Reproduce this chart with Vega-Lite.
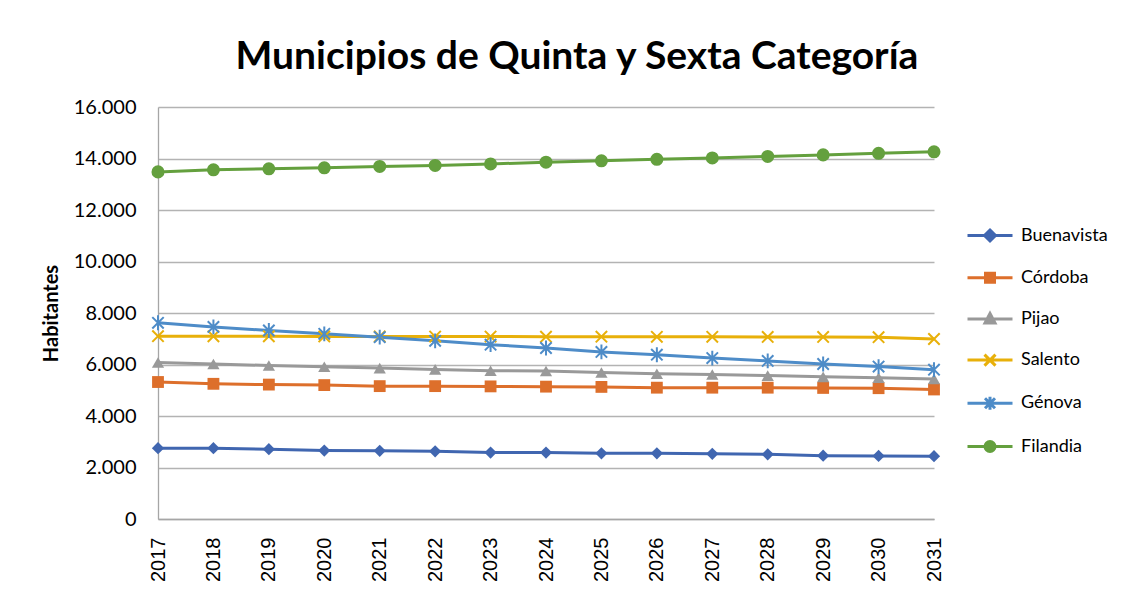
{
  "$schema": "https://vega.github.io/schema/vega-lite/v6.json",
  "width": 776,
  "height": 412,
  "autosize": {"type": "none"},
  "padding": {"left": 158, "top": 107, "right": 205, "bottom": 71},
  "background": "white",
  "title": {
    "text": "Municipios de Quinta y Sexta Categoría",
    "font": "Lato",
    "fontSize": 39,
    "fontWeight": "bold",
    "color": "#000000",
    "anchor": "middle",
    "frame": "group",
    "dx": 31,
    "dy": 50,
    "baseline": "alphabetic",
    "offset": 39
  },
  "config": {
    "view": {"stroke": null},
    "axis": {
      "domainColor": "#a6a6a6",
      "domainWidth": 1.3,
      "gridColor": "#b3b3b3",
      "gridWidth": 1.3,
      "ticks": false,
      "labelColor": "#000000",
      "titleColor": "#000000"
    }
  },
  "data": {
    "values": [
      {"year": "2017", "Municipio": "Buenavista", "Habitantes": 2750},
      {"year": "2018", "Municipio": "Buenavista", "Habitantes": 2750},
      {"year": "2019", "Municipio": "Buenavista", "Habitantes": 2710},
      {"year": "2020", "Municipio": "Buenavista", "Habitantes": 2660},
      {"year": "2021", "Municipio": "Buenavista", "Habitantes": 2650},
      {"year": "2022", "Municipio": "Buenavista", "Habitantes": 2630},
      {"year": "2023", "Municipio": "Buenavista", "Habitantes": 2580},
      {"year": "2024", "Municipio": "Buenavista", "Habitantes": 2580},
      {"year": "2025", "Municipio": "Buenavista", "Habitantes": 2550},
      {"year": "2026", "Municipio": "Buenavista", "Habitantes": 2550},
      {"year": "2027", "Municipio": "Buenavista", "Habitantes": 2530},
      {"year": "2028", "Municipio": "Buenavista", "Habitantes": 2510},
      {"year": "2029", "Municipio": "Buenavista", "Habitantes": 2460},
      {"year": "2030", "Municipio": "Buenavista", "Habitantes": 2450},
      {"year": "2031", "Municipio": "Buenavista", "Habitantes": 2440},
      {"year": "2017", "Municipio": "Córdoba", "Habitantes": 5320},
      {"year": "2018", "Municipio": "Córdoba", "Habitantes": 5250},
      {"year": "2019", "Municipio": "Córdoba", "Habitantes": 5220},
      {"year": "2020", "Municipio": "Córdoba", "Habitantes": 5200},
      {"year": "2021", "Municipio": "Córdoba", "Habitantes": 5160},
      {"year": "2022", "Municipio": "Córdoba", "Habitantes": 5160},
      {"year": "2023", "Municipio": "Córdoba", "Habitantes": 5150},
      {"year": "2024", "Municipio": "Córdoba", "Habitantes": 5140},
      {"year": "2025", "Municipio": "Córdoba", "Habitantes": 5130},
      {"year": "2026", "Municipio": "Córdoba", "Habitantes": 5100},
      {"year": "2027", "Municipio": "Córdoba", "Habitantes": 5100},
      {"year": "2028", "Municipio": "Córdoba", "Habitantes": 5100},
      {"year": "2029", "Municipio": "Córdoba", "Habitantes": 5090},
      {"year": "2030", "Municipio": "Córdoba", "Habitantes": 5080},
      {"year": "2031", "Municipio": "Córdoba", "Habitantes": 5030},
      {"year": "2017", "Municipio": "Pijao", "Habitantes": 6080},
      {"year": "2018", "Municipio": "Pijao", "Habitantes": 6020},
      {"year": "2019", "Municipio": "Pijao", "Habitantes": 5960},
      {"year": "2020", "Municipio": "Pijao", "Habitantes": 5910},
      {"year": "2021", "Municipio": "Pijao", "Habitantes": 5860},
      {"year": "2022", "Municipio": "Pijao", "Habitantes": 5810},
      {"year": "2023", "Municipio": "Pijao", "Habitantes": 5760},
      {"year": "2024", "Municipio": "Pijao", "Habitantes": 5750},
      {"year": "2025", "Municipio": "Pijao", "Habitantes": 5690},
      {"year": "2026", "Municipio": "Pijao", "Habitantes": 5640},
      {"year": "2027", "Municipio": "Pijao", "Habitantes": 5610},
      {"year": "2028", "Municipio": "Pijao", "Habitantes": 5570},
      {"year": "2029", "Municipio": "Pijao", "Habitantes": 5520},
      {"year": "2030", "Municipio": "Pijao", "Habitantes": 5490},
      {"year": "2031", "Municipio": "Pijao", "Habitantes": 5440},
      {"year": "2017", "Municipio": "Salento", "Habitantes": 7100},
      {"year": "2018", "Municipio": "Salento", "Habitantes": 7095},
      {"year": "2019", "Municipio": "Salento", "Habitantes": 7095},
      {"year": "2020", "Municipio": "Salento", "Habitantes": 7090},
      {"year": "2021", "Municipio": "Salento", "Habitantes": 7090},
      {"year": "2022", "Municipio": "Salento", "Habitantes": 7085},
      {"year": "2023", "Municipio": "Salento", "Habitantes": 7085},
      {"year": "2024", "Municipio": "Salento", "Habitantes": 7080},
      {"year": "2025", "Municipio": "Salento", "Habitantes": 7080},
      {"year": "2026", "Municipio": "Salento", "Habitantes": 7075},
      {"year": "2027", "Municipio": "Salento", "Habitantes": 7075},
      {"year": "2028", "Municipio": "Salento", "Habitantes": 7070},
      {"year": "2029", "Municipio": "Salento", "Habitantes": 7070},
      {"year": "2030", "Municipio": "Salento", "Habitantes": 7060},
      {"year": "2031", "Municipio": "Salento", "Habitantes": 6990},
      {"year": "2017", "Municipio": "Génova", "Habitantes": 7620},
      {"year": "2018", "Municipio": "Génova", "Habitantes": 7460},
      {"year": "2019", "Municipio": "Génova", "Habitantes": 7320},
      {"year": "2020", "Municipio": "Génova", "Habitantes": 7190},
      {"year": "2021", "Municipio": "Génova", "Habitantes": 7060},
      {"year": "2022", "Municipio": "Génova", "Habitantes": 6920},
      {"year": "2023", "Municipio": "Génova", "Habitantes": 6770},
      {"year": "2024", "Municipio": "Génova", "Habitantes": 6640},
      {"year": "2025", "Municipio": "Génova", "Habitantes": 6490},
      {"year": "2026", "Municipio": "Génova", "Habitantes": 6380},
      {"year": "2027", "Municipio": "Génova", "Habitantes": 6250},
      {"year": "2028", "Municipio": "Génova", "Habitantes": 6140},
      {"year": "2029", "Municipio": "Génova", "Habitantes": 6020},
      {"year": "2030", "Municipio": "Génova", "Habitantes": 5920},
      {"year": "2031", "Municipio": "Génova", "Habitantes": 5800},
      {"year": "2017", "Municipio": "Filandia", "Habitantes": 13480},
      {"year": "2018", "Municipio": "Filandia", "Habitantes": 13560},
      {"year": "2019", "Municipio": "Filandia", "Habitantes": 13600},
      {"year": "2020", "Municipio": "Filandia", "Habitantes": 13640},
      {"year": "2021", "Municipio": "Filandia", "Habitantes": 13690},
      {"year": "2022", "Municipio": "Filandia", "Habitantes": 13730},
      {"year": "2023", "Municipio": "Filandia", "Habitantes": 13790},
      {"year": "2024", "Municipio": "Filandia", "Habitantes": 13855},
      {"year": "2025", "Municipio": "Filandia", "Habitantes": 13910},
      {"year": "2026", "Municipio": "Filandia", "Habitantes": 13970},
      {"year": "2027", "Municipio": "Filandia", "Habitantes": 14020},
      {"year": "2028", "Municipio": "Filandia", "Habitantes": 14080},
      {"year": "2029", "Municipio": "Filandia", "Habitantes": 14140},
      {"year": "2030", "Municipio": "Filandia", "Habitantes": 14200},
      {"year": "2031", "Municipio": "Filandia", "Habitantes": 14260}
    ]
  },
  "encoding": {
    "x": {
      "field": "year",
      "type": "ordinal",
      "scale": {"type": "point", "padding": 0},
      "axis": {
        "title": null,
        "labelAngle": -90,
        "labelFont": "Liberation Sans",
        "labelFontSize": 20,
        "labelPadding": 18,
        "grid": false,
        "domain": true
      }
    },
    "y": {
      "field": "Habitantes",
      "type": "quantitative",
      "scale": {"domain": [0, 16000], "nice": false},
      "axis": {
        "title": "Habitantes",
        "titleFont": "Lato",
        "titleFontSize": 20,
        "titleFontWeight": "bold",
        "titlePadding": 12,
        "values": [0, 2000, 4000, 6000, 8000, 10000, 12000, 14000, 16000],
        "labelExpr": "replace(format(datum.value, ','), ',', '.')",
        "labelFont": "Lato",
        "labelFontSize": 20,
        "labelPadding": 22,
        "grid": true,
        "domain": true
      }
    },
    "color": {
      "field": "Municipio",
      "type": "nominal",
      "scale": {
        "domain": ["Buenavista", "Córdoba", "Pijao", "Salento", "Génova", "Filandia"],
        "range": ["#4066b0", "#dd6f2b", "#999999", "#e8b00a", "#4e8cc8", "#64a03e"]
      },
      "legend": {
        "title": null,
        "orient": "none",
        "legendX": 820.5,
        "legendY": 117,
        "padding": 0,
        "symbolType": "stroke",
        "symbolSize": 400,
        "symbolStrokeWidth": 3,
        "rowPadding": 19.2,
        "labelOffset": 19.5,
        "labelFont": "Lato",
        "labelFontSize": 18,
        "labelColor": "#000000",
        "labelLimit": 200,
        "encode": {
          "symbols": {
            "update": {
              "shape": {"signal": "datum.value == 'Buenavista' ? 'M-2.25,0H2.25M0,-0.55L0.55,0L0,0.55L-0.55,0Z' : datum.value == 'Córdoba' ? 'M-2.25,0H2.25M-0.45,-0.45H0.45V0.45H-0.45Z' : datum.value == 'Pijao' ? 'M-2.25,0H2.25M0,-0.55L0.5,0.4H-0.5Z' : datum.value == 'Salento' ? 'M-2.25,0H2.25M-0.55,-0.55L0.55,0.55M-0.55,0.55L0.55,-0.55' : datum.value == 'Génova' ? 'M-2.25,0H2.25M-0.5,-0.5L0.5,0.5M-0.5,0.5L0.5,-0.5M0,-0.65V0.65' : 'M-2.25,0H2.25M-0.5,0A0.5,0.5,0,1,0,0.5,0A0.5,0.5,0,1,0,-0.5,0Z'"},
              "fill": {"signal": "scale('color', datum.value)"},
              "stroke": {"signal": "scale('color', datum.value)"},
              "strokeWidth": {"value": 3},
              "opacity": {"value": 1}
            }
          }
        }
      }
    }
  },
  "layer": [
    {
      "mark": {"type": "line", "strokeWidth": 3}
    },
    {
      "transform": [{"filter": "datum.Municipio == 'Buenavista'"}],
      "mark": {"type": "point", "shape": "diamond", "filled": true, "size": 150, "opacity": 1}
    },
    {
      "transform": [{"filter": "datum.Municipio == 'Córdoba'"}],
      "mark": {"type": "point", "shape": "square", "filled": true, "size": 140, "opacity": 1}
    },
    {
      "transform": [{"filter": "datum.Municipio == 'Pijao'"}],
      "mark": {"type": "point", "shape": "triangle-up", "filled": true, "size": 150, "opacity": 1}
    },
    {
      "transform": [{"filter": "datum.Municipio == 'Salento'"}],
      "mark": {"type": "point", "shape": "M-1,-1L1,1M-1,1L1,-1", "filled": false, "size": 130, "strokeWidth": 2, "opacity": 1}
    },
    {
      "transform": [{"filter": "datum.Municipio == 'Génova'"}],
      "mark": {"type": "point", "shape": "M-1,-1L1,1M-1,1L1,-1M0,-1.3V1.3", "filled": false, "size": 130, "strokeWidth": 2, "opacity": 1}
    },
    {
      "transform": [{"filter": "datum.Municipio == 'Filandia'"}],
      "mark": {"type": "point", "shape": "circle", "filled": true, "size": 170, "opacity": 1}
    }
  ]
}
